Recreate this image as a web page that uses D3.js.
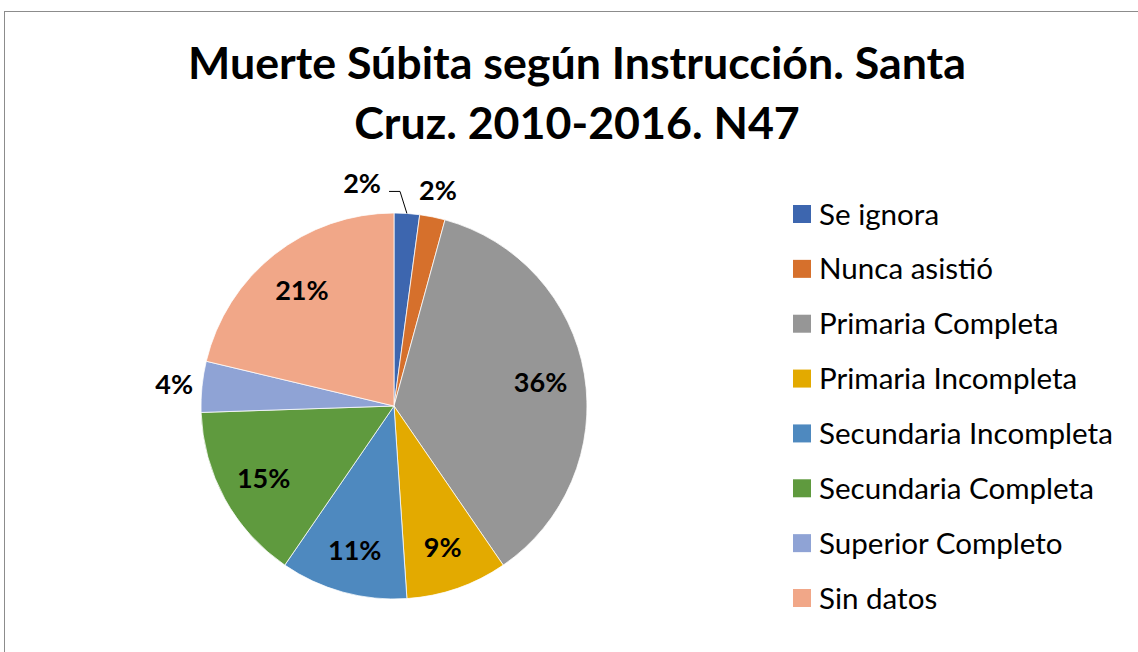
<!DOCTYPE html>
<html lang="es">
<head>
<meta charset="UTF-8">
<title>Muerte Súbita según Instrucción</title>
<script src="https://d3js.org/d3.v7.min.js"></script>
<style>
  body { margin: 0; background: #fff; }
  text { font-family: Lato, "Noto Sans", sans-serif; fill: #000; }
</style>
</head>
<body>
<div id="chart"></div>
<script>
const categories = ["Se ignora", "Nunca asistió", "Primaria Completa", "Primaria Incompleta",
  "Secundaria Incompleta", "Secundaria Completa", "Superior Completo", "Sin datos"];
const counts = [1, 1, 17, 4, 5, 7, 2, 10];
const colors = ["#3D66AF", "#D6702C", "#969696", "#E3AA00", "#4E89BF", "#5F9A3E", "#8FA3D5", "#F1A788"];
const titleLines = ["Muerte Súbita según Instrucción. Santa", "Cruz. 2010-2016. N47"];

const width = 1138, height = 652;
const cx = 394, cy = 406, R = 193;

const svg = d3.select("#chart").append("svg")
  .attr("width", width).attr("height", height);

// chart area frame (right and bottom edges are off-canvas)
svg.append("rect")
  .attr("x", 4.5).attr("y", 11.5)
  .attr("width", 1200).attr("height", 700)
  .attr("fill", "#fff").attr("stroke", "#8c8c8c").attr("stroke-width", 1);

// helper: set font size so a text reaches a target width
function fitWidth(sel, target) {
  const w = sel.node().getComputedTextLength();
  const fs = parseFloat(sel.attr("font-size"));
  sel.attr("font-size", fs * target / w);
}

// title
const t1 = svg.append("text").attr("x", 577).attr("y", 79)
  .attr("text-anchor", "middle").attr("font-weight", "bold").attr("font-size", 44)
  .text(titleLines[0]);
fitWidth(t1, 778);
svg.append("text").attr("x", 577).attr("y", 139)
  .attr("text-anchor", "middle").attr("font-weight", "bold").attr("font-size", t1.attr("font-size"))
  .text(titleLines[1]);

// pie
const total = d3.sum(counts);
const data = categories.map((c, i) => ({ name: c, value: counts[i], color: colors[i] }));
const pie = d3.pie().value(d => d.value).sort(null);
const arcs = pie(data);
const arc = d3.arc().innerRadius(0).outerRadius(R);

const g = svg.append("g").attr("transform", `translate(${cx},${cy})`);
g.selectAll("path.slice")
  .data(arcs)
  .enter().append("path")
  .attr("class", "slice")
  .attr("d", arc)
  .attr("fill", d => d.data.color)
  .attr("stroke", "#fff")
  .attr("stroke-width", 0.75);

// labels
const pct = d => d3.format(".0%")(d.data.value / total);
const inArc = d3.arc().innerRadius(R * 0.77).outerRadius(R * 0.77);
const outArc = d3.arc().innerRadius(R + 28).outerRadius(R + 28);
const edgeArc = d3.arc().innerRadius(R).outerRadius(R);

const labels = arcs.map(d => {
  const small = (d.endAngle - d.startAngle) < 0.3;
  const p = small ? outArc.centroid(d) : inArc.centroid(d);
  return { d, small, x: p[0], y: p[1], leader: false };
});
// push overlapping outside labels apart (earlier one moves left, with leader line)
for (let i = 0; i < labels.length; i++) {
  const a = labels[i];
  if (!a.small) continue;
  const next = labels[(i + 1) % labels.length];
  if (next !== a && next.small && Math.abs(next.x - a.x) < 50 && Math.abs(next.y - a.y) < 30) {
    a.x = next.x - 76;
    a.y = next.y - 7;
    a.leader = true;
  }
}

labels.filter(l => l.leader).forEach(l => {
  const e = edgeArc.centroid(l.d);
  g.append("polyline")
    .attr("points", [[l.x + 27, l.y + 9], [l.x + 38, l.y + 9], e].map(p => p.join(",")).join(" "))
    .attr("fill", "none").attr("stroke", "#000").attr("stroke-width", 1);
});

g.selectAll("text.lbl")
  .data(labels)
  .enter().append("text")
  .attr("class", "lbl")
  .attr("x", l => l.x).attr("y", l => l.y)
  .attr("text-anchor", "middle").attr("dominant-baseline", "central")
  .attr("font-weight", "bold").attr("font-size", 27)
  .text(l => pct(l.d));

// legend
const legend = svg.append("g");
const rowY = d3.scalePoint().domain(categories).range([214, 598]);
const items = legend.selectAll("g")
  .data(data).enter().append("g")
  .attr("transform", d => `translate(793,${rowY(d.name)})`);
items.append("rect")
  .attr("x", 0).attr("y", -9).attr("width", 18).attr("height", 18)
  .attr("fill", d => d.color);
const legTexts = items.append("text")
  .attr("x", 26).attr("y", -1).attr("dominant-baseline", "central")
  .attr("font-size", 26)
  .text(d => d.name);
// fit legend size from the longest entry
const longest = legTexts.filter(d => d.name === "Secundaria Incompleta");
fitWidth(longest, 294);
legTexts.attr("font-size", longest.attr("font-size"));
</script>
</body>
</html>
